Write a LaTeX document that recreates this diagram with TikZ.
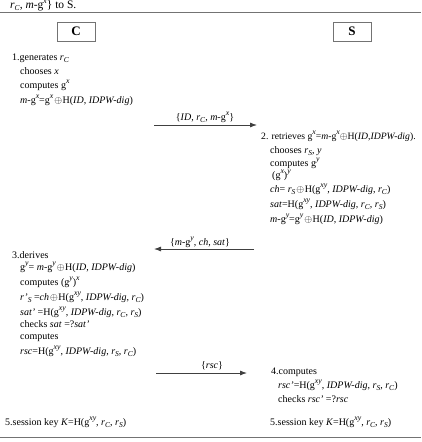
\documentclass[tikz,border=0pt]{standalone}
\usepackage{fontspec}
\setmainfont{Liberation Serif}
\usetikzlibrary{arrows.meta}
\newcommand\Sup[1]{\raisebox{0.9ex}{\fontsize{7.8}{8}\selectfont\textit{#1}}}
\newcommand\Sub[1]{\raisebox{-0.45ex}{\fontsize{7.5}{8}\selectfont\textit{#1}}}
\newcommand\rC{\textit{r}\Sub{C}}
\newcommand\rS{\textit{r}\Sub{S}}
\newcommand\gX{g\Sup{x}}
\newcommand\gY{g\Sup{y}}
\newcommand\gXY{g\Sup{xy}}
\newcommand\mgX{\textit{m}-g\Sup{x}}
\newcommand\mgY{\textit{m}-g\Sup{y}}
\newcommand\dig{\textit{IDPW-dig}}
\newcommand\xo{\hspace{1pt}$\oplus$\hspace{0.6pt}}
\begin{document}
\begin{tikzpicture}[x=1pt,y=-1pt,
  txt/.style={anchor=base west,inner sep=0pt,font=\fontsize{10}{11}\selectfont},
  lbl/.style={anchor=base,inner sep=0pt,font=\fontsize{10}{11}\selectfont},
  msg/.style={-{Latex[length=7pt,width=5pt]},draw=black!75,line width=0.8pt},
  rule/.style={draw=black!55,line width=0.8pt},
  party/.style={draw=black!55,line width=0.7pt,minimum width=38pt,minimum height=19pt,inner sep=0pt,font=\fontsize{13}{15}\selectfont\bfseries}]
\useasboundingbox (0,0) rectangle (421,442);
\node[anchor=base west,inner sep=0pt,font=\fontsize{11.5}{13}\selectfont] (top) at (10,8) {\rC, \mgX\} to S.};
\coordinate (tl) at (0,12); \coordinate (tr) at (421,12);
\draw[rule] (tl) -- (tr);
\coordinate (bl) at (0,437); \coordinate (br) at (421,437);
\draw[rule] (bl) -- (br);
\node[party] (C) at (76,31.5) {C};
\node[party] (S) at (352,31.5) {S};
% step 1
\node[txt] (c1) at (12,60) {1.generates \rC};
\node[txt] (c2) at (20,74) {chooses \textit{x}};
\node[txt] (c3) at (20,88) {computes \gX};
\node[txt] (c4) at (20,103) {\mgX=\gX\xo H(\textit{ID}, \dig)};
% message 1
\coordinate (a1s) at (154,125); \coordinate (a1e) at (257,125);
\draw[msg] (a1s) -- (a1e);
\node[lbl] (l1) at (205,120) {\{\textit{ID}, \rC, \mgX\}};
% step 2
\node[txt,font=\fontsize{9.7}{11}\selectfont] (s1) at (261,139) {2. retrieves \gX=\mgX$\oplus$H(\textit{ID},\dig).};
\node[txt] (s2) at (270,153) {chooses \rS, \textit{y}};
\node[txt] (s3) at (270,166) {computes \gY};
\node[txt] (s4) at (272,178) {(\gX)\Sup{y}};
\node[txt] (s5) at (270,192) {\textit{ch}= \rS\xo H(\gXY, \dig, \rC)};
\node[txt] (s6) at (270,207) {\textit{sat}=H(\gXY, \dig, \rC, \rS)};
\node[txt] (s7) at (270,222) {\mgY=\gY\xo H(\textit{ID}, \dig)};
% message 2
\coordinate (a2s) at (254,249); \coordinate (a2e) at (154,249);
\draw[msg] (a2s) -- (a2e);
\node[lbl] (l2) at (200,245) {\{\mgY, \textit{ch}, \textit{sat}\}};
% step 3
\node[txt] (d1) at (12,258) {3.derives};
\node[txt] (d2) at (20,270) {\gY= \mgY\xo H(\textit{ID}, \dig)};
\node[txt] (d3) at (20,285) {computes (\gY)\Sup{x}};
\node[txt] (d4) at (20,300) {\textit{r'}\Sub{S} =\textit{ch}\xo H(\gXY, \dig, \rC)};
\node[txt] (d5) at (20,315) {\textit{sat'} =H(\gXY, \dig, \rC, \rS)};
\node[txt] (d6) at (20,327) {checks \textit{sat} =?\textit{sat'}};
\node[txt] (d7) at (20,339) {computes};
\node[txt] (d8) at (20,354) {\textit{rsc}=H(\gXY, \dig, \rS, \rC)};
% message 3
\coordinate (a3s) at (156,373); \coordinate (a3e) at (247,373);
\draw[msg] (a3s) -- (a3e);
\node[lbl] (l3) at (212,368) {\{\textit{rsc}\}};
% step 4
\node[txt] (e1) at (271,374) {4.computes};
\node[txt] (e2) at (278,388) {\textit{rsc'}=H(\gXY, \dig, \rS, \rC)};
\node[txt] (e3) at (278,402) {checks \textit{rsc'} =?\textit{rsc}};
% step 5
\node[txt] (k1) at (5,425) {5.session key \textit{K}=H(\gXY, \rC, \rS)};
\node[txt] (k2) at (270,425) {5.session key \textit{K}=H(\gXY, \rC, \rS)};
\end{tikzpicture}
\end{document}
